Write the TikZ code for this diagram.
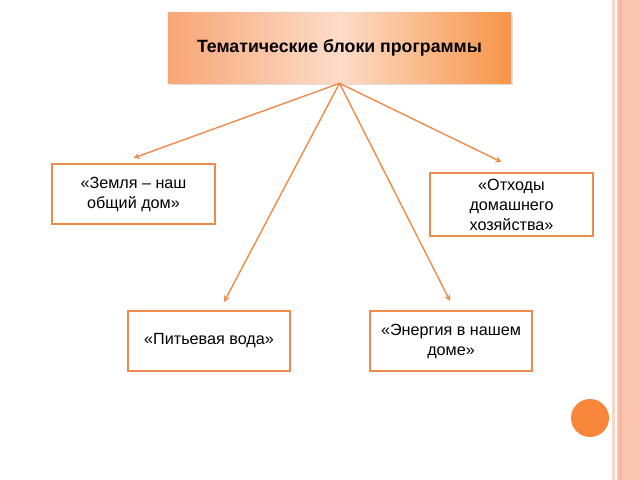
\documentclass[tikz,border=0pt]{standalone}
\usepackage{fontspec}
\setmainfont{Liberation Sans}
\usepackage{xcolor}
\usetikzlibrary{shapes.geometric, arrows, positioning, shadows}
\definecolor{boxorange}{HTML}{EE8A4C}
\definecolor{lineorange}{HTML}{F08A4B}
\definecolor{dotorange}{HTML}{F7863A}
\definecolor{stripelight}{HTML}{FAD4C4}
\definecolor{stripe}{HTML}{FBC5AF}
\definecolor{stripedark}{HTML}{F6B49C}
\definecolor{headleft}{HTML}{F8A677}
\definecolor{headmid}{HTML}{FCDCC8}
\definecolor{headright}{HTML}{F79448}
\tikzstyle{header} = [rectangle, minimum width=8.575cm, minimum height=1.75cm, text centered, draw=none, left color=headleft, right color=headright, middle color=headmid, drop shadow={opacity=0.25, shadow xshift=0.6mm, shadow yshift=-0.6mm}, font=\fontsize{12.6}{14}\selectfont\bfseries]
\tikzstyle{topic} = [rectangle, minimum width=4.05cm, minimum height=1.5cm, align=center, draw=boxorange, line width=1.4pt, fill=white, font=\fontsize{11.5}{14.2}\selectfont]
\tikzstyle{arrow} = [draw=lineorange, line width=1pt, ->, >=stealth]

\begin{document}
\begin{tikzpicture}[x=0.025cm, y=-0.025cm, node distance=1.95cm]
\useasboundingbox (0,0) rectangle (640,480);

% slide decoration
\fill[stripelight] (612,0) rectangle (614.5,480);
\fill[stripe] (617,0) rectangle (640,480);
\fill[stripedark] (618.5,0) rectangle (621.5,480);
\fill[dotorange] (590,418) circle (19);

% Title
\node (title) [header] at (339.5,48) {Тематические блоки программы};

% Topics
\node (earth) [topic] at (133.5,194) {«Земля – наш\\общий дом»};

\node (waste) [topic, minimum width=4.075cm, minimum height=1.575cm] at (511.5,204.5) {«Отходы\\домашнего\\хозяйства»};

\node (water) [topic] at (209,341) {«Питьевая вода»};

\node (energy) [topic, right=of water] {«Энергия в нашем\\доме»};

% Arrows
\draw [arrow] (title.south) -- ([shift={(0,-5)}]earth.north);
\draw [arrow] (title.south) -- ([shift={(15,-8)}]water.north);
\draw [arrow] (title.south) -- ([shift={(-1,-9)}]energy.north);
\draw [arrow] (title.south) -- ([shift={(-10,-10)}]waste.north);

\end{tikzpicture}
\end{document}
